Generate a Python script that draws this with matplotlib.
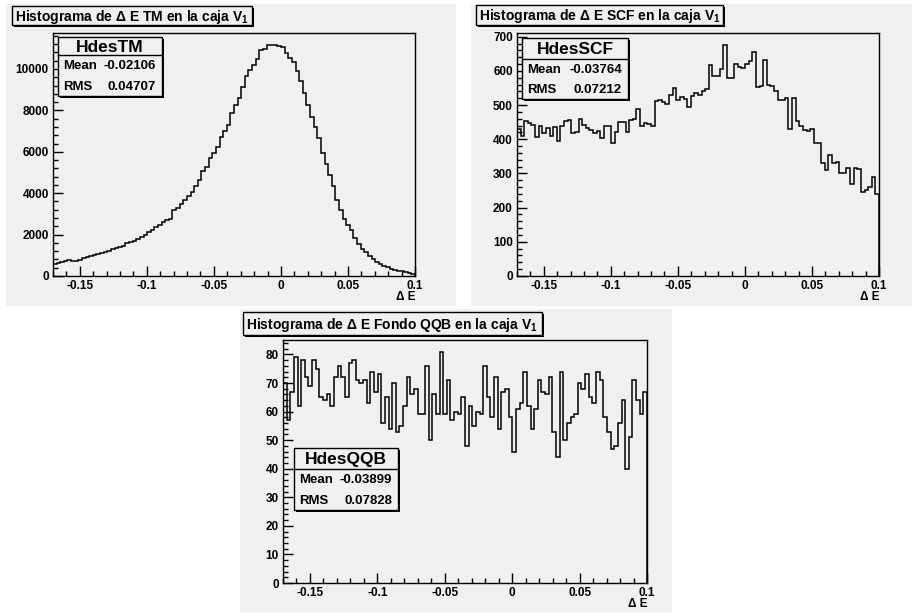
import numpy as np
import matplotlib.pyplot as plt
from matplotlib.patches import Rectangle
from matplotlib.lines import Line2D
from matplotlib.ticker import MultipleLocator, FuncFormatter

plt.rcParams['font.family'] = ['Liberation Sans', 'DejaVu Sans']
plt.rcParams['font.weight'] = 'bold'
plt.rcParams['axes.unicode_minus'] = False
plt.rcParams['mathtext.default'] = 'regular'

# bin contents (100 bins from -0.17 to 0.1)
tm_counts = [585, 630, 680, 745, 775, 745, 745, 775, 860, 940,
             970, 1020, 1070, 1115, 1180, 1230, 1295, 1360, 1425, 1470,
             1585, 1620, 1685, 1795, 1875, 1975, 2105, 2235, 2360, 2460,
             2605, 2685, 2765, 3170, 3300, 3465, 3655, 3850, 4075, 4350,
             4625, 5080, 5275, 5680, 5955, 6245, 6730, 7020, 7295, 7895,
             8270, 8590, 9125, 9675, 9935, 10210, 10485, 10905, 10970, 11180,
             11180, 11170, 11130, 11065, 10775, 10535, 10340, 9885, 9400, 8835,
             8270, 7700, 7185, 6650, 5920, 5390, 4870, 4350, 3690, 3170,
             2765, 2445, 2200, 1845, 1555, 1310, 1150, 985, 825, 665,
             580, 500, 420, 355, 305, 260, 225, 180, 150, 120]

scf_counts = [430, 410, 452, 448, 442, 408, 438, 418, 432, 410,
              435, 395, 440, 452, 455, 418, 420, 458, 442, 432,
              428, 418, 424, 405, 440, 438, 390, 420, 450, 450,
              420, 455, 458, 488, 440, 448, 444, 440, 512, 515,
              508, 503, 530, 550, 515, 525, 518, 495, 528, 535,
              530, 540, 548, 617, 584, 586, 606, 677, 578, 580,
              620, 612, 608, 620, 630, 654, 553, 555, 632, 560,
              555, 542, 515, 515, 520, 429, 520, 454, 440, 427,
              423, 429, 388, 390, 330, 310, 354, 331, 334, 300,
              300, 315, 269, 315, 312, 246, 251, 261, 290, 239]

qqb_counts = [70, 57, 67, 79, 62, 78, 72, 69, 78, 75,
              65, 64, 66, 62, 72, 76, 72, 65, 77, 78,
              71, 70, 71, 63, 74, 67, 73, 56, 65, 54,
              70, 53, 55, 62, 72, 66, 68, 59, 59, 76,
              50, 66, 59, 81, 59, 71, 57, 60, 59, 65,
              48, 62, 55, 60, 59, 76, 65, 58, 72, 54,
              67, 68, 58, 46, 61, 63, 74, 62, 54, 61,
              71, 67, 66, 72, 53, 44, 74, 50, 56, 58,
              59, 70, 68, 73, 65, 63, 74, 71, 58, 53,
              47, 48, 56, 64, 40, 51, 71, 64, 59, 67]

names = ['HdesTM', 'HdesSCF', 'HdesQQB']
titles = [r'Histograma de Δ E TM en la caja V$_1$',
          r'Histograma de Δ E SCF en la caja V$_1$',
          r'Histograma de Δ E Fondo QQB en la caja V$_1$']
means = ['-0.02106', '-0.03764', '-0.03899']
rmss = ['0.04707', '0.07212', '0.07828']

bins = np.linspace(-0.17, 0.1, 101)

W, H = 914, 613
GREY = '#f0f0f0'

fig = plt.figure(figsize=(W / 100, H / 100), dpi=100)
fig.patch.set_facecolor('white')


def px(x, y):
    return x / W, 1 - y / H


def box(x0, y0, x1, y1, shadow=2):
    fig.add_artist(Rectangle(px(x0 + shadow, y1 + shadow), (x1 - x0) / W, (y1 - y0) / H,
                             transform=fig.transFigure, facecolor='black',
                             edgecolor='none', zorder=5))
    fig.add_artist(Rectangle(px(x0, y1), (x1 - x0) / W, (y1 - y0) / H,
                             transform=fig.transFigure, facecolor=GREY,
                             edgecolor='black', linewidth=1, zorder=6))


def draw_pad(pad, frame, tbox, sbox, counts, title, name, mean, rms, ymaj, ymin):
    # fondo del pad
    x0, y0, x1, y1 = pad
    fig.add_artist(Rectangle(px(x0, y1), (x1 - x0) / W, (y1 - y0) / H,
                             transform=fig.transFigure, facecolor=GREY,
                             edgecolor='none', zorder=-1))
    # marco + histograma
    fx0, fy0, fx1, fy1 = frame
    ax = fig.add_axes([fx0 / W, 1 - fy1 / H, (fx1 - fx0) / W, (fy1 - fy0) / H])
    ax.set_facecolor(GREY)
    ax.stairs(counts, bins, color='black', linewidth=1.1)
    ax.set_xlim(bins[0], bins[-1])
    ax.set_ylim(0, 1.05 * max(counts))
    ax.xaxis.set_major_locator(MultipleLocator(0.05))
    ax.xaxis.set_minor_locator(MultipleLocator(0.01))
    ax.yaxis.set_major_locator(MultipleLocator(ymaj))
    ax.yaxis.set_minor_locator(MultipleLocator(ymin))
    ax.xaxis.set_major_formatter(FuncFormatter(lambda v, p: '{:g}'.format(round(v, 3))))
    ax.yaxis.set_major_formatter(FuncFormatter(lambda v, p: '%d' % v))
    ax.tick_params(which='both', direction='in', top=False, right=False,
                   labelsize=8.5, width=1)
    ax.tick_params(which='major', length=7, pad=3)
    ax.tick_params(which='minor', length=3.5)
    for s in ax.spines.values():
        s.set_linewidth(1)
    ax.text(1.0, -0.06, 'Δ E', transform=ax.transAxes, ha='right', va='top',
            fontsize=8.5, fontweight='bold')

    # caja del titulo
    tx0, ty0, tx1, ty1 = tbox
    box(tx0, ty0, tx1, ty1)
    fig.text(*px(tx0 + 3, (ty0 + ty1) / 2 + 1), title, ha='left', va='center',
             fontsize=10, fontweight='bold', zorder=7)

    # caja de estadisticas
    sx0, sy0, sx1, sy1, sep = sbox
    box(sx0, sy0, sx1, sy1)
    fig.add_artist(Line2D([sx0 / W, sx1 / W], [1 - sep / H, 1 - sep / H],
                          transform=fig.transFigure, color='black', linewidth=1, zorder=7))
    fig.text(*px((sx0 + sx1) / 2, (sy0 + sep) / 2 + 1), name, ha='center', va='center',
             fontsize=12.5, fontweight='bold', zorder=7)
    row = (sy1 - sep) / 2
    fig.text(*px(sx0 + 5, sep + row * 0.5 + 1), 'Mean', ha='left', va='center',
             fontsize=9.5, fontweight='bold', zorder=7)
    fig.text(*px(sx1 - 6, sep + row * 0.5 + 1), mean, ha='right', va='center',
             fontsize=9.5, fontweight='bold', zorder=7)
    fig.text(*px(sx0 + 5, sep + row * 1.5 + 1), 'RMS', ha='left', va='center',
             fontsize=9.5, fontweight='bold', zorder=7)
    fig.text(*px(sx1 - 6, sep + row * 1.5 + 1), rms, ha='right', va='center',
             fontsize=9.5, fontweight='bold', zorder=7)
    return ax


draw_pad((6, 4, 456, 306), (53, 33, 415, 276), (12, 6, 252, 25),
         (58, 37, 162, 96, 55), tm_counts, titles[0], names[0], means[0], rmss[0], 2000, 400)
draw_pad((471, 4, 912, 306), (517, 33, 879, 276), (476, 5, 723, 25),
         (522, 38, 628, 99, 59), scf_counts, titles[1], names[1], means[1], rmss[1], 100, 20)
draw_pad((240, 309, 672, 612), (283, 340, 647, 583), (243, 312, 542, 335),
         (294, 448, 398, 510, 469), qqb_counts, titles[2], names[2], means[2], rmss[2], 10, 2)

fig.savefig('out.png', dpi=100)
